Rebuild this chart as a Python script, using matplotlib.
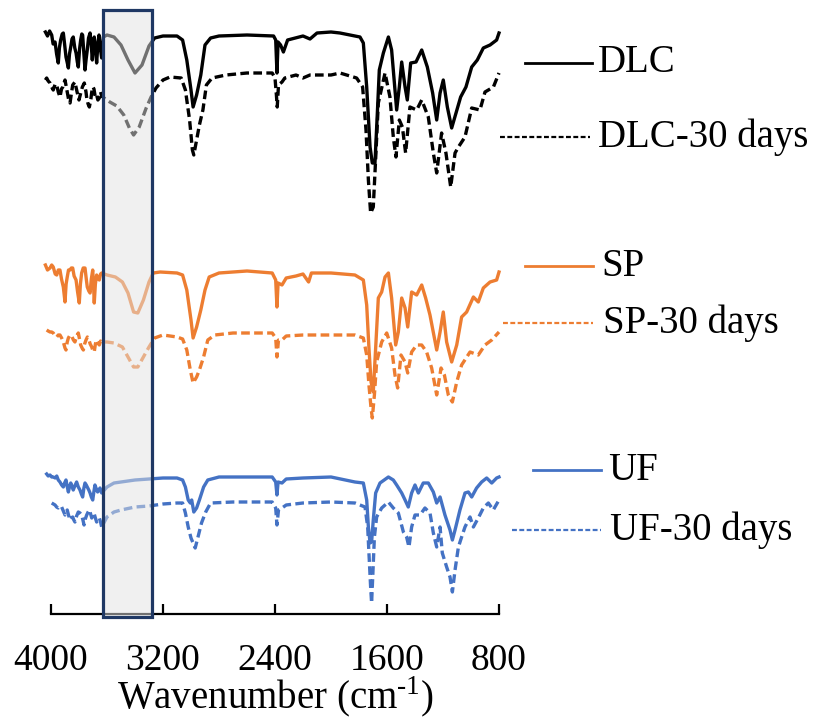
import numpy as np
import matplotlib
matplotlib.use("Agg")
import matplotlib.pyplot as plt
from matplotlib.patches import Rectangle
from matplotlib.lines import Line2D

plt.rcParams["font.family"] = ["Liberation Serif", "DejaVu Serif"]
plt.rcParams["mathtext.fontset"] = "custom"
plt.rcParams["mathtext.rm"] = "Liberation Serif"

# (wavenumber cm-1, stacked transmittance a.u.)
DLC = [(4040, 582), (4025, 578), (4010, 583), (3995, 579), (3985, 570), (3971, 572), (3960, 560),
       (3948, 551), (3940, 566), (3931, 574), (3920, 580), (3912, 581), (3903, 570), (3893, 557),
       (3885, 552), (3876, 546), (3868, 560), (3859, 567), (3850, 575), (3841, 577), (3830, 566),
       (3821, 561), (3812, 552), (3805, 547), (3796, 565), (3788, 574), (3780, 580), (3774, 579),
       (3765, 560), (3757, 544), (3749, 555), (3741, 564), (3732, 576), (3721, 581), (3713, 570),
       (3705, 554), (3698, 568), (3691, 577), (3682, 566), (3674, 551), (3665, 570), (3657, 579),
       (3648, 566), (3638, 556), (3626, 577), (3600, 579), (3550, 577), (3500, 569), (3450, 554),
       (3400, 541), (3350, 549), (3300, 568), (3260, 576), (3200, 578), (3100, 578), (3060, 574),
       (3030, 554), (3000, 524), (2985, 507), (2960, 519), (2930, 539), (2900, 569), (2860, 576),
       (2800, 578), (2600, 579), (2410, 578), (2395, 574), (2386, 541), (2378, 572), (2360, 569),
       (2340, 562), (2310, 574), (2200, 578), (2150, 575), (2100, 581), (2000, 582), (1936, 581),
       (1793, 577), (1769, 571), (1745, 527), (1721, 467), (1705, 451), (1686, 451), (1669, 501),
       (1655, 544), (1626, 561), (1590, 577), (1567, 564), (1531, 504), (1512, 527), (1495, 552),
       (1471, 527), (1455, 514), (1431, 551), (1393, 552), (1352, 564), (1312, 547), (1274, 521),
       (1245, 494), (1221, 521), (1198, 534), (1169, 507), (1138, 486), (1107, 501), (1074, 517),
       (1036, 527), (995, 547), (955, 554), (912, 566), (864, 569), (817, 574), (800, 581)]

DLC_30 = [(4040, 534), (4031, 536), (4020, 533), (4007, 531), (3995, 527), (3984, 524), (3970, 530),
          (3959, 529), (3948, 522), (3936, 517), (3925, 525), (3916, 527), (3900, 534), (3884, 522),
          (3875, 515), (3864, 511), (3855, 520), (3845, 529), (3829, 532), (3820, 526), (3812, 521),
          (3800, 514), (3793, 518), (3776, 527), (3762, 531), (3750, 522), (3745, 516), (3735, 510),
          (3726, 507), (3715, 515), (3709, 522), (3700, 527), (3693, 525), (3684, 517), (3674, 519),
          (3665, 514), (3655, 516), (3646, 522), (3638, 518), (3621, 516), (3580, 512), (3530, 508),
          (3480, 499), (3440, 486), (3410, 479), (3370, 487), (3320, 506), (3285, 517), (3250, 526),
          (3200, 534), (3150, 537), (3070, 536), (3040, 524), (3010, 494), (2990, 464), (2980, 459),
          (2960, 474), (2940, 489), (2915, 504), (2890, 529), (2850, 536), (2750, 539), (2600, 541),
          (2420, 541), (2400, 536), (2390, 519), (2384, 507), (2375, 529), (2350, 532), (2330, 536),
          (2250, 539), (2200, 536), (2150, 539), (2000, 539), (1936, 541), (1817, 536), (1774, 527),
          (1750, 484), (1733, 434), (1717, 401), (1698, 407), (1679, 461), (1662, 511), (1614, 541),
          (1579, 517), (1555, 477), (1536, 457), (1512, 494), (1490, 487), (1467, 461), (1436, 507),
          (1388, 504), (1352, 514), (1305, 497), (1269, 461), (1245, 441), (1210, 481), (1179, 461),
          (1145, 427), (1114, 461), (1090, 467), (1043, 477), (995, 506), (936, 504), (900, 522),
          (840, 527), (800, 541)]

SP = [(4040, 349), (4025, 344), (4007, 346), (3995, 349), (3984, 347), (3970, 340), (3959, 339),
      (3948, 344), (3936, 344), (3925, 335), (3912, 327), (3900, 312), (3892, 330), (3884, 337),
      (3875, 344), (3864, 344), (3855, 346), (3845, 346), (3835, 338), (3821, 334), (3810, 322),
      (3798, 311), (3790, 330), (3781, 341), (3770, 346), (3757, 346), (3748, 335), (3741, 327),
      (3730, 323), (3721, 321), (3712, 335), (3702, 344), (3695, 325), (3691, 311), (3683, 330),
      (3674, 339), (3665, 336), (3655, 334), (3646, 340), (3638, 341), (3600, 339), (3540, 337),
      (3490, 332), (3450, 321), (3410, 302), (3380, 301), (3340, 314), (3300, 332), (3270, 341),
      (3220, 342), (3100, 341), (3060, 339), (3030, 324), (3000, 294), (2985, 276), (2960, 287),
      (2930, 304), (2900, 324), (2870, 337), (2800, 341), (2600, 343), (2420, 341), (2395, 334),
      (2386, 307), (2378, 331), (2350, 329), (2320, 336), (2250, 338), (2200, 340), (2160, 332),
      (2140, 341), (2000, 341), (1829, 339), (1769, 334), (1745, 309), (1729, 266), (1714, 232),
      (1698, 222), (1681, 266), (1662, 316), (1638, 322), (1614, 337), (1590, 341), (1567, 316),
      (1538, 269), (1519, 282), (1495, 316), (1471, 306), (1452, 287), (1424, 322), (1388, 319),
      (1352, 329), (1324, 316), (1293, 299), (1245, 264), (1221, 282), (1198, 302), (1174, 272),
      (1138, 252), (1102, 269), (1067, 297), (1031, 302), (983, 317), (948, 312), (912, 326),
      (864, 332), (817, 334), (800, 342)]

SP_30 = [(4031, 284), (4020, 283), (4007, 282), (3995, 282), (3984, 281), (3970, 278), (3959, 277),
         (3948, 279), (3936, 279), (3924, 276), (3912, 272), (3900, 266), (3893, 264), (3884, 272),
         (3876, 276), (3864, 279), (3852, 278), (3840, 274), (3829, 272), (3817, 278), (3805, 281),
         (3795, 274), (3788, 269), (3778, 266), (3769, 264), (3760, 270), (3750, 274), (3740, 277),
         (3733, 276), (3720, 270), (3709, 267), (3700, 263), (3691, 262), (3683, 270), (3674, 274),
         (3665, 271), (3655, 269), (3646, 273), (3638, 272), (3600, 272), (3550, 271), (3490, 267),
         (3450, 257), (3410, 247), (3380, 247), (3340, 257), (3300, 267), (3260, 276), (3200, 279),
         (3100, 277), (3060, 275), (3030, 264), (3005, 244), (2985, 231), (2960, 237), (2940, 244),
         (2910, 257), (2880, 274), (2830, 279), (2700, 281), (2420, 281), (2395, 276), (2386, 257),
         (2375, 274), (2350, 274), (2320, 278), (2200, 279), (2000, 279), (1829, 279), (1769, 276),
         (1745, 259), (1729, 229), (1714, 206), (1705, 196), (1690, 219), (1674, 252), (1638, 272),
         (1602, 281), (1567, 266), (1543, 239), (1524, 226), (1500, 259), (1471, 252), (1452, 241),
         (1424, 262), (1388, 269), (1352, 269), (1317, 262), (1281, 246), (1245, 219), (1214, 246),
         (1190, 239), (1162, 219), (1133, 212), (1102, 232), (1067, 249), (1007, 262), (948, 259),
         (900, 269), (852, 274), (800, 282)]

UF = [(4031, 140), (4020, 138), (4007, 139), (3995, 137), (3984, 137), (3970, 136), (3959, 138),
      (3948, 134), (3936, 132), (3924, 129), (3912, 127), (3903, 131), (3893, 134), (3885, 128),
      (3876, 122), (3868, 127), (3859, 131), (3850, 128), (3841, 124), (3830, 128), (3817, 132),
      (3805, 127), (3793, 124), (3783, 120), (3774, 117), (3765, 126), (3757, 131), (3748, 129),
      (3741, 127), (3730, 124), (3721, 121), (3712, 117), (3702, 114), (3694, 122), (3686, 129),
      (3676, 125), (3667, 122), (3658, 124), (3650, 126), (3644, 123), (3638, 121), (3600, 127),
      (3550, 131), (3500, 132), (3400, 134), (3300, 135), (3200, 136), (3100, 136), (3060, 134),
      (3040, 127), (3020, 114), (3005, 111), (2995, 114), (2980, 102), (2960, 106), (2940, 114),
      (2910, 127), (2880, 134), (2800, 137), (2600, 137), (2420, 137), (2395, 132), (2386, 119),
      (2378, 132), (2350, 131), (2320, 135), (2200, 136), (2000, 137), (1829, 132), (1769, 131),
      (1745, 114), (1733, 87), (1721, 71), (1710, 72), (1698, 94), (1681, 121), (1650, 131),
      (1590, 137), (1555, 134), (1531, 129), (1495, 121), (1471, 114), (1448, 107), (1424, 121),
      (1400, 129), (1376, 121), (1341, 131), (1305, 131), (1269, 122), (1245, 111), (1221, 117),
      (1186, 99), (1150, 84), (1133, 74), (1114, 84), (1079, 104), (1043, 121), (1019, 122),
      (995, 117), (960, 126), (924, 132), (888, 136), (852, 131), (817, 136), (800, 137)]

UF_30 = [(3995, 111), (3983, 110), (3971, 109), (3960, 107), (3948, 106), (3936, 108), (3924, 107),
         (3912, 103), (3900, 99), (3892, 102), (3884, 104), (3875, 99), (3864, 94), (3855, 96),
         (3845, 97), (3837, 94), (3829, 92), (3817, 98), (3805, 102), (3793, 101), (3781, 99),
         (3772, 94), (3764, 89), (3755, 95), (3745, 99), (3735, 102), (3726, 104), (3717, 100),
         (3709, 96), (3700, 99), (3693, 101), (3683, 96), (3674, 92), (3665, 94), (3655, 96),
         (3646, 92), (3638, 87), (3600, 97), (3550, 102), (3500, 104), (3400, 107), (3300, 108),
         (3200, 110), (3100, 111), (3060, 111), (3040, 101), (3020, 87), (3000, 76), (2985, 71),
         (2970, 66), (2950, 77), (2925, 91), (2895, 102), (2860, 111), (2700, 112), (2420, 112),
         (2395, 106), (2386, 89), (2375, 104), (2350, 106), (2320, 109), (2200, 111), (2000, 112),
         (1829, 111), (1757, 107), (1738, 87), (1729, 61), (1717, 27), (1710, 11), (1702, 37),
         (1690, 77), (1674, 97), (1638, 106), (1590, 112), (1555, 106), (1519, 101), (1483, 82),
         (1460, 77), (1443, 67), (1424, 87), (1400, 99), (1364, 99), (1329, 106), (1293, 101),
         (1269, 81), (1245, 67), (1221, 87), (1205, 61), (1174, 47), (1150, 37), (1133, 22),
         (1114, 44), (1090, 67), (1067, 77), (1043, 87), (1007, 97), (983, 87), (948, 96),
         (912, 106), (876, 111), (841, 104), (800, 114)]

LABELS = ["DLC", "DLC-30 days", "SP", "SP-30 days", "UF", "UF-30 days"]
SERIES = [DLC, DLC_30, SP, SP_30, UF, UF_30]
XTICKS = [4000, 3200, 2400, 1600, 800]
HIGHLIGHT = (3280, 3630)  # O-H band region

# styles / layout
COLORS = ["#000000", "#000000", "#ED7D31", "#ED7D31", "#4472C4", "#4472C4"]
STYLES = ["-", (0, (2.6, 1.3)), "-", (0, (2.6, 1.3)), "-", (0, (2.6, 1.3))]
# legend-like labels on the right, in pixels: (line x0, line x1, y, text x)
KEYS = [(525, 592, 63, 598), (500, 590, 137, 598), (525, 593, 266, 601),
        (503, 593, 323, 603), (533, 601, 470, 608), (512, 601, 530, 610)]

W, H = 832, 721
FS = 28

fig = plt.figure(figsize=(W / 100, H / 100), dpi=100)
ax = fig.add_axes([51 / W, 1 - 614 / H, 448 / W, 614 / H])

for data, col, ls in zip(SERIES, COLORS, STYLES):
    arr = np.array(data, dtype=float)
    ax.plot(arr[:, 0], arr[:, 1], color=col, linestyle=ls, lw=2.4,
            clip_on=False, zorder=2, solid_joinstyle="round")

ax.add_patch(Rectangle((HIGHLIGHT[0], -3), HIGHLIGHT[1] - HIGHLIGHT[0], 607,
                       facecolor="#e2e2e2", alpha=0.5, lw=0, zorder=3, clip_on=False))
ax.add_patch(Rectangle((HIGHLIGHT[0], -3), HIGHLIGHT[1] - HIGHLIGHT[0], 607,
                       fill=False, edgecolor="#1F3864", lw=2.3, zorder=4, clip_on=False))

ax.set_xlim(4000, 800)
ax.set_ylim(0, 614)
ax.set_yticks([])
for s in ["left", "right", "top"]:
    ax.spines[s].set_visible(False)
ax.spines["bottom"].set_linewidth(1.6)
ax.set_xticks(XTICKS)
ax.set_xticklabels([str(t) for t in XTICKS])
ax.tick_params(axis="x", direction="in", length=7.5, width=1.6, pad=21, labelsize=27)
ax.set_xlabel("Wavenumber (cm$^{\\mathregular{\u2010}1}$)", fontsize=FS, labelpad=-2)
ax.patch.set_alpha(0)

for (x0, x1, y, tx), lab, col, ls in zip(KEYS, LABELS, COLORS, STYLES):
    fig.add_artist(Line2D([x0 / W, x1 / W], [1 - y / H, 1 - y / H], color=col,
                          linestyle=ls if ls == "-" else (0, (2.2, 1.1)),
                          lw=2.0 if ls == "-" else 1.6))
    fig.text(tx / W, 1 - y / H, lab, fontsize=FS, va="center", ha="left")

fig.savefig("out.png", dpi=100)
